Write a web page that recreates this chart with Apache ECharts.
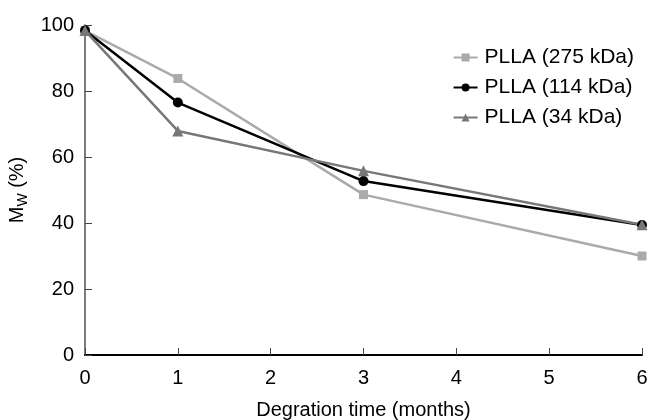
<!DOCTYPE html>
<html>
	<head>
		<meta charset="utf-8">
		<style>
			html, body { margin: 0; padding: 0; background: #fff; }
			#chart { width: 649px; height: 420px; }
		</style>
	</head>
	<body>
		<div id="chart"></div>
	</body>
	<script src="https://cdn.jsdelivr.net/npm/echarts@6/dist/echarts.min.js"></script>
	<script type="text/javascript">
		// 数据：降解时间（月）与 Mw 保留率（%）
		var months = [0, 1, 3, 6];
		var mw275 = [98.3, 83.8, 48.6, 30.0];
		var mw114 = [98.3, 76.5, 52.7, 39.4];
		var mw34 = [98.3, 67.9, 55.8, 39.5];
		var xTicks = [0, 1, 2, 3, 4, 5, 6];
		var yTicks = [0, 20, 40, 60, 80, 100];

		function pairs(ys) {
			var out = [];
			for (var i = 0; i < months.length; i++) {
				out.push([months[i], ys[i]]);
			}
			return out;
		}

		var chart = echarts.init(document.getElementById('chart'));
		var font = 'Liberation Sans, Arial, sans-serif';

		var option = {
			backgroundColor: '#fff',
			animation: false,
			grid: { left: 85, right: 7, top: 25, bottom: 65, outerBoundsMode: 'none', containLabel: false },
			legend: {
				orient: 'vertical',
				right: 15,
				top: 47,
				padding: 0,
				itemGap: 9,
				itemWidth: 24,
				itemHeight: 10,
				textStyle: { fontFamily: font, fontSize: 21, color: '#000', padding: [0, 0, 0, 2] },
				data: ['PLLA (275 kDa)', 'PLLA (114 kDa)', 'PLLA (34 kDa)']
			},
			xAxis: [{
				type: 'value',
				min: xTicks[0],
				max: xTicks[xTicks.length - 1],
				interval: 1,
				name: 'Degration time (months)',
				nameLocation: 'middle',
				nameGap: 45,
				nameTextStyle: { fontFamily: font, fontSize: 20, color: '#000' },
				axisLine: { lineStyle: { color: '#444', width: 1.5 } },
				axisTick: { inside: true, length: 7, lineStyle: { color: '#444' } },
				axisLabel: { fontFamily: font, fontSize: 20, color: '#000', margin: 13 },
				splitLine: { show: false }
			}, {
				type: 'value',
				position: 'top',
				min: 0,
				max: 6,
				axisLine: { show: true, lineStyle: { color: '#000', width: 2 } },
				axisTick: { show: false },
				axisLabel: { show: false },
				splitLine: { show: false }
			}],
			yAxis: [{
				type: 'value',
				min: yTicks[0],
				max: yTicks[yTicks.length - 1],
				interval: 20,
				name: '{m|M}{s|W}{m| (%)}',
				nameLocation: 'middle',
				nameGap: 55,
				nameTextStyle: {
					rich: {
						m: { fontFamily: font, fontSize: 20, color: '#000', lineHeight: 24 },
						s: { fontFamily: font, fontSize: 14, color: '#000', lineHeight: 14, verticalAlign: 'bottom' }
					}
				},
				axisLine: { show: true, lineStyle: { color: '#666', width: 1.5 } },
				axisTick: { inside: true, length: 7, lineStyle: { color: '#444' } },
				axisLabel: { fontFamily: font, fontSize: 20, color: '#000', margin: 11 },
				splitLine: { show: false }
			}, {
				type: 'value',
				position: 'right',
				min: 0,
				max: 100,
				axisLine: { show: true, lineStyle: { color: '#777', width: 1.5 } },
				axisTick: { show: false },
				axisLabel: { show: false },
				splitLine: { show: false }
			}],
			series: [{
				name: 'PLLA (275 kDa)',
				type: 'line',
				data: pairs(mw275),
				symbol: 'rect',
				symbolSize: 9,
				itemStyle: { color: '#aaaaaa' },
				lineStyle: { color: '#aaaaaa', width: 2.5 }
			}, {
				name: 'PLLA (114 kDa)',
				type: 'line',
				data: pairs(mw114),
				symbol: 'circle',
				symbolSize: 10,
				itemStyle: { color: '#000' },
				lineStyle: { color: '#000', width: 2.5 }
			}, {
				name: 'PLLA (34 kDa)',
				type: 'line',
				data: pairs(mw34),
				symbol: 'triangle',
				symbolSize: 11,
				z: 3,
				itemStyle: { color: '#777777' },
				lineStyle: { color: '#777777', width: 2.5 }
			}]
		};

		chart.setOption(option);
	</script>
</html>
